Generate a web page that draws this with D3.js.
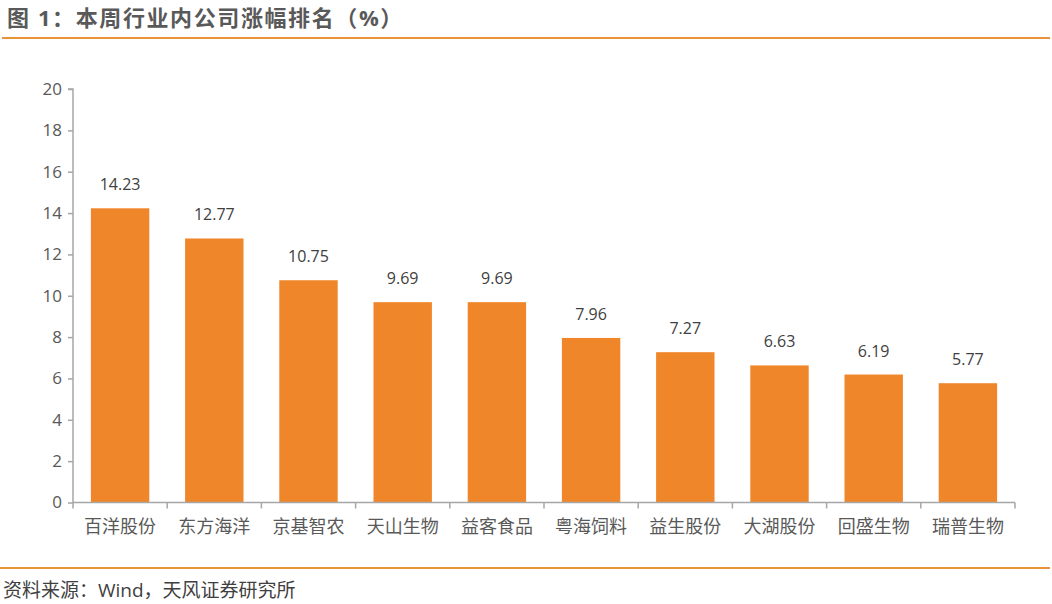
<!DOCTYPE html>
<html><head><meta charset="utf-8">
<script src="https://cdn.jsdelivr.net/npm/d3@7"></script>
<style>body{margin:0;background:#fff}svg{display:block}</style>
</head><body>
<script>
const categories = ["百洋股份","东方海洋","京基智农","天山生物","益客食品","粤海饲料","益生股份","大湖股份","回盛生物","瑞普生物"];
const values = [14.23,12.77,10.75,9.69,9.69,7.96,7.27,6.63,6.19,5.77];
const yTicks = [0,2,4,6,8,10,12,14,16,18,20];
const title = "图 1：本周行业内公司涨幅排名（%）";
const source = "资料来源：Wind，天风证券研究所";

const W=1052,H=604;
const font = "'Open Sans','Noto Sans CJK SC',sans-serif";
const svg = d3.select("body").append("svg").attr("width",W).attr("height",H);
const orange="#F0862A", axisCol="#A6A6A6", textCol="#595959";

svg.append("text").attr("x",7).attr("y",26).text(title)
  .attr("font-family",font).attr("font-size",22).attr("font-weight","bold").attr("fill",textCol)
  .attr("letter-spacing",1.6);
svg.append("line").attr("x1",2).attr("x2",1050).attr("y1",38).attr("y2",38).attr("stroke","#E8923A").attr("stroke-width",2);
svg.append("line").attr("x1",0).attr("x2",1050).attr("y1",568).attr("y2",568).attr("stroke","#E8923A").attr("stroke-width",2);
svg.append("text").attr("x",3).attr("y",597).text(source)
  .attr("font-family",font).attr("font-size",19).attr("fill","#404040");

const x0=73,x1=1015,yTop=89,yBot=502.5;
const x=d3.scaleBand().domain(categories).range([x0,x1]).paddingInner(0.38).paddingOuter(0.19);
const y=d3.scaleLinear().domain([0,20]).range([yBot,yTop]);

svg.selectAll("rect.bar").data(values).join("rect").attr("class","bar")
  .attr("x",(d,i)=>x(categories[i])).attr("width",x.bandwidth())
  .attr("y",d=>y(d)).attr("height",d=>yBot-y(d)).attr("fill",orange);

svg.selectAll("text.val").data(values).join("text").attr("class","val")
  .attr("x",(d,i)=>x(categories[i])+x.bandwidth()/2).attr("y",d=>y(d)-18)
  .attr("text-anchor","middle").attr("font-family",font).attr("font-size",16).attr("fill","#404040")
  .text(d=>d.toFixed(2));

// y axis
const ya=svg.append("g").attr("transform",`translate(${x0},0)`)
  .call(d3.axisLeft(y).tickValues(yTicks).tickSize(5).tickPadding(6).tickFormat(d3.format("d")));
ya.select(".domain").attr("stroke",axisCol).attr("stroke-width",1.5).attr("d",`M-5,${yTop}H0V${yBot}`);
ya.selectAll(".tick line").attr("stroke",axisCol).attr("stroke-width",1.5);
ya.selectAll(".tick text").attr("font-family",font).attr("font-size",17).attr("fill",textCol);

// x axis
const step=(x1-x0)/categories.length;
const xa=svg.append("g");
xa.append("line").attr("x1",x0).attr("x2",x1).attr("y1",yBot).attr("y2",yBot).attr("stroke",axisCol).attr("stroke-width",1.5);
const bounds=d3.range(categories.length+1).map(i=>x0+i*step);
xa.selectAll("line.tk").data(bounds).join("line").attr("class","tk")
  .attr("x1",d=>d).attr("x2",d=>d).attr("y1",yBot).attr("y2",yBot+6).attr("stroke",axisCol).attr("stroke-width",1.5);
xa.selectAll("text").data(categories).join("text")
  .attr("x",d=>x(d)+x.bandwidth()/2).attr("y",533).attr("text-anchor","middle")
  .attr("font-family",font).attr("font-size",18).attr("fill",textCol).text(d=>d);
</script>
</body></html>
